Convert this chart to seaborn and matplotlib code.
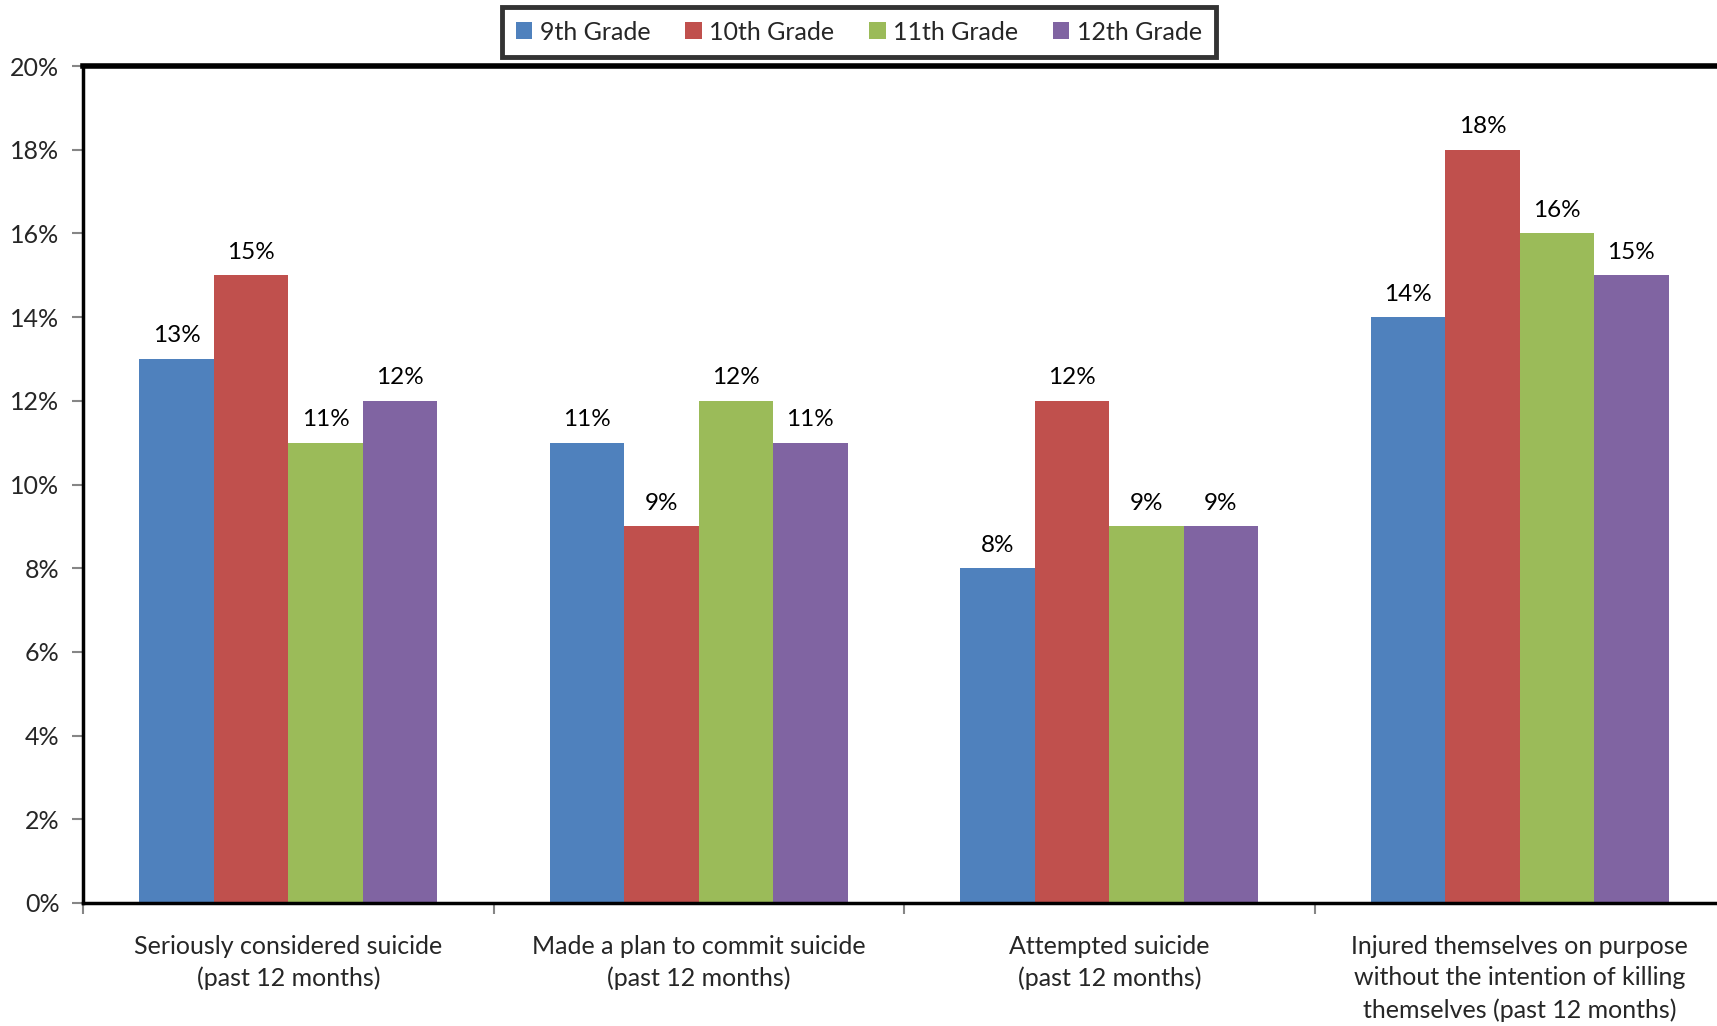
import pandas as pd
import seaborn as sns
import matplotlib.pyplot as plt
from matplotlib.ticker import FuncFormatter

categories = [
    "Seriously considered suicide\n(past 12 months)",
    "Made a plan to commit suicide\n(past 12 months)",
    "Attempted suicide\n(past 12 months)",
    "Injured themselves on purpose\nwithout the intention of killing\nthemselves (past 12 months)",
]
grades = ["9th Grade", "10th Grade", "11th Grade", "12th Grade"]
grade_9 = [13, 11, 8, 14]
grade_10 = [15, 9, 12, 18]
grade_11 = [11, 12, 9, 16]
grade_12 = [12, 11, 9, 15]
colors = ["#4F81BD", "#C0504D", "#9BBB59", "#8064A2"]

rows = []
for grade, vals in zip(grades, [grade_9, grade_10, grade_11, grade_12]):
    for cat, v in zip(categories, vals):
        rows.append({"category": cat, "grade": grade, "value": v})
df = pd.DataFrame(rows)

sns.set_theme(style="white")
plt.rcParams["font.family"] = ["Lato", "DejaVu Sans"]

fig = plt.figure(figsize=(17.17, 10.26), dpi=100)
ax = fig.add_axes([83 / 1717, 1 - 903 / 1026, (1725 - 83) / 1717, (903 - 66) / 1026])

sns.barplot(data=df, x="category", y="value", hue="grade", palette=colors,
            order=categories, hue_order=grades, width=0.725, saturation=1,
            linewidth=0, ax=ax, errorbar=None)

for cont in ax.containers:
    ax.bar_label(cont, labels=[f"{v:.0f}%" for v in cont.datavalues],
                 padding=9, fontsize=17.5, color="black")

ax.set_ylim(0, 20)
ax.set_xlim(-0.5, len(categories) - 0.5)
ax.set_yticks(range(0, 21, 2))
ax.yaxis.set_major_formatter(FuncFormatter(lambda v, p: f"{v:.0f}%"))
ax.set_xlabel("")
ax.set_ylabel("")
for lbl in ax.get_xticklabels():
    lbl.set_linespacing(1.45)

# boundary ticks between categories
ax.set_xticks([i - 0.5 for i in range(len(categories) + 1)], minor=True)
ax.tick_params(axis="x", which="major", length=0, pad=23, labelsize=18)
ax.tick_params(axis="x", which="minor", length=8, width=1.5, color="#868686",
               direction="out", bottom=True)
ax.tick_params(axis="y", length=8, width=1.5, color="#868686", direction="out",
               left=True, labelsize=18, pad=9)

for side in ["left", "bottom"]:
    ax.spines[side].set_color("black")
    ax.spines[side].set_linewidth(2.5)
ax.spines["top"].set_color("black")
ax.spines["top"].set_linewidth(4)
ax.spines["right"].set_visible(False)

leg = ax.legend(loc="center", bbox_to_anchor=(859 / 1717, 1 - 32 / 1026),
                bbox_transform=fig.transFigure, ncol=4, fontsize=18,
                frameon=True, fancybox=False, handlelength=0.65, handleheight=0.65,
                handletextpad=0.3, columnspacing=1.4, borderpad=0.55)
leg.get_frame().set_edgecolor("black")
leg.get_frame().set_linewidth(3.5)

fig.savefig("out.png", dpi=100)
